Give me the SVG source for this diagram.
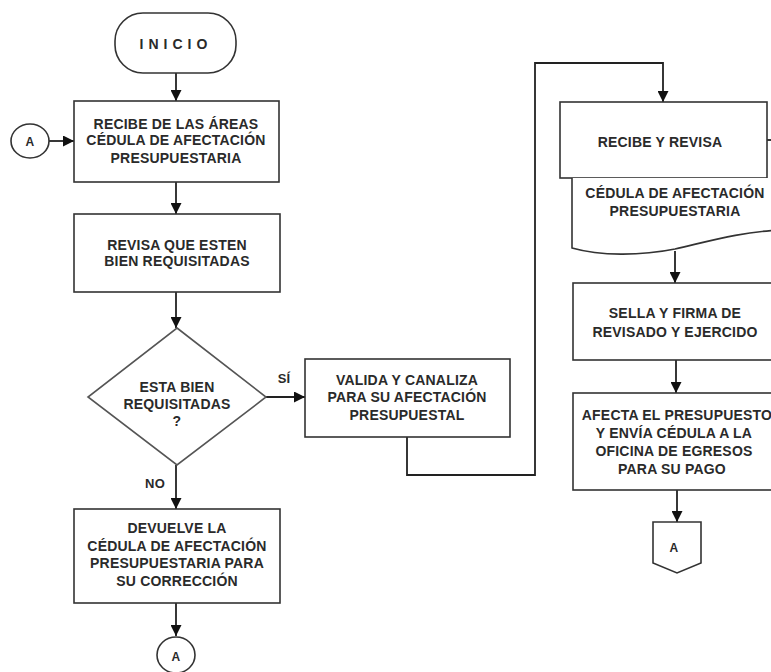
<svg xmlns="http://www.w3.org/2000/svg" width="771" height="672" viewBox="0 0 771 672">
<defs>
<marker id="ah" viewBox="0 0 10 10" refX="10" refY="5" markerWidth="11" markerHeight="11" markerUnits="userSpaceOnUse" orient="auto">
<path d="M0,0 L10,5 L0,10 Z" fill="#111"/>
</marker>
<style>
.shape{fill:#fff;stroke:#333;stroke-width:1.6}
.conn{fill:none;stroke:#222;stroke-width:1.8}
.arr{fill:none;stroke:#222;stroke-width:1.8;marker-end:url(#ah)}
text{font-family:"Liberation Sans",Arial,sans-serif;font-size:14px;font-weight:bold;fill:#2a2a2a;text-anchor:middle;letter-spacing:0.2px}
.lbl{font-size:13px}
</style>
</defs>
<rect width="771" height="672" fill="#fff"/>

<g id="connectors">
<line class="arr" x1="176" y1="73" x2="176" y2="101"/>
<line class="arr" x1="49" y1="141" x2="74" y2="141"/>
<line class="arr" x1="176" y1="182" x2="176" y2="214"/>
<line class="arr" x1="176" y1="292" x2="176" y2="328"/>
<line class="arr" x1="266" y1="397" x2="305" y2="397"/>
<line class="arr" x1="176" y1="465" x2="176" y2="509"/>
<line class="arr" x1="176" y1="603" x2="176" y2="636"/>
<polyline class="arr" points="407,437 407,475 535,475 535,63 663,63 663,102"/>
<line class="conn" x1="767" y1="140" x2="771" y2="140"/>
<line class="arr" x1="675" y1="251" x2="675" y2="283"/>
<line class="arr" x1="676" y1="360" x2="676" y2="393"/>
<line class="arr" x1="677" y1="490" x2="677" y2="522"/>
<text class="lbl" x="284" y="383">SÍ</text>
<text class="lbl" x="155" y="488">NO</text>
</g>

<g id="inicio">
<rect class="shape" x="115" y="13" width="121" height="60" rx="28" ry="28"/>
<text x="176" y="49" style="letter-spacing:5px">INICIO</text>
</g>

<g id="conector-a-entrada">
<ellipse class="shape" cx="30" cy="141" rx="19" ry="17"/>
<text x="30" y="146" style="font-size:12px">A</text>
</g>

<g id="recibe-areas">
<rect class="shape" x="74" y="101" width="205" height="81"/>
<text x="176" y="129">RECIBE DE LAS ÁREAS</text>
<text x="176" y="145">CÉDULA DE AFECTACIÓN</text>
<text x="176" y="163">PRESUPUESTARIA</text>
</g>

<g id="revisa">
<rect class="shape" x="74" y="214" width="206" height="78"/>
<text x="177" y="250">REVISA QUE ESTEN</text>
<text x="177" y="266">BIEN REQUISITADAS</text>
</g>

<g id="decision">
<polygon class="shape" points="177,328 266,397 177,465 88,397" style="stroke:#555"/>
<text x="177" y="392">ESTA BIEN</text>
<text x="177" y="409">REQUISITADAS</text>
<text x="177" y="426">?</text>
</g>

<g id="valida">
<rect class="shape" x="305" y="359" width="205" height="78"/>
<text x="407" y="385">VALIDA Y CANALIZA</text>
<text x="407" y="402">PARA SU AFECTACIÓN</text>
<text x="407" y="420">PRESUPUESTAL</text>
</g>

<g id="devuelve">
<rect class="shape" x="74" y="509" width="206" height="94"/>
<text x="177" y="533">DEVUELVE  LA</text>
<text x="177" y="551">CÉDULA DE AFECTACIÓN</text>
<text x="177" y="568">PRESUPUESTARIA PARA</text>
<text x="177" y="586">SU CORRECCIÓN</text>
</g>

<g id="conector-a-salida">
<ellipse class="shape" cx="176" cy="655" rx="19" ry="18"/>
<text x="176" y="661" style="font-size:12px">A</text>
</g>

<g id="recibe-revisa">
<rect class="shape" x="560" y="102" width="207" height="76"/>
<text x="660" y="147">RECIBE Y REVISA</text>
</g>

<g id="documento">
<path class="shape" d="M572,178 V248 C600,256 640,256 675,249 C710,241 740,232 780,230 V178"/>
<text x="675" y="198">CÉDULA DE AFECTACIÓN</text>
<text x="675" y="216">PRESUPUESTARIA</text>
</g>

<g id="sella">
<rect class="shape" x="573" y="283" width="205" height="77"/>
<text x="675" y="318">SELLA Y FIRMA DE</text>
<text x="675" y="337">REVISADO Y EJERCIDO</text>
</g>

<g id="afecta">
<rect class="shape" x="573" y="393" width="205" height="97"/>
<text x="677" y="420">AFECTA EL PRESUPUESTO</text>
<text x="674" y="438">Y ENVÍA CÉDULA A  LA</text>
<text x="674" y="456">OFICINA DE EGRESOS</text>
<text x="672" y="474">PARA SU PAGO</text>
</g>

<g id="conector-pagina">
<polygon class="shape" points="653,522 701,522 701,563 677,573 653,563"/>
<text x="674" y="552" style="font-size:12px">A</text>
</g>
</svg>
